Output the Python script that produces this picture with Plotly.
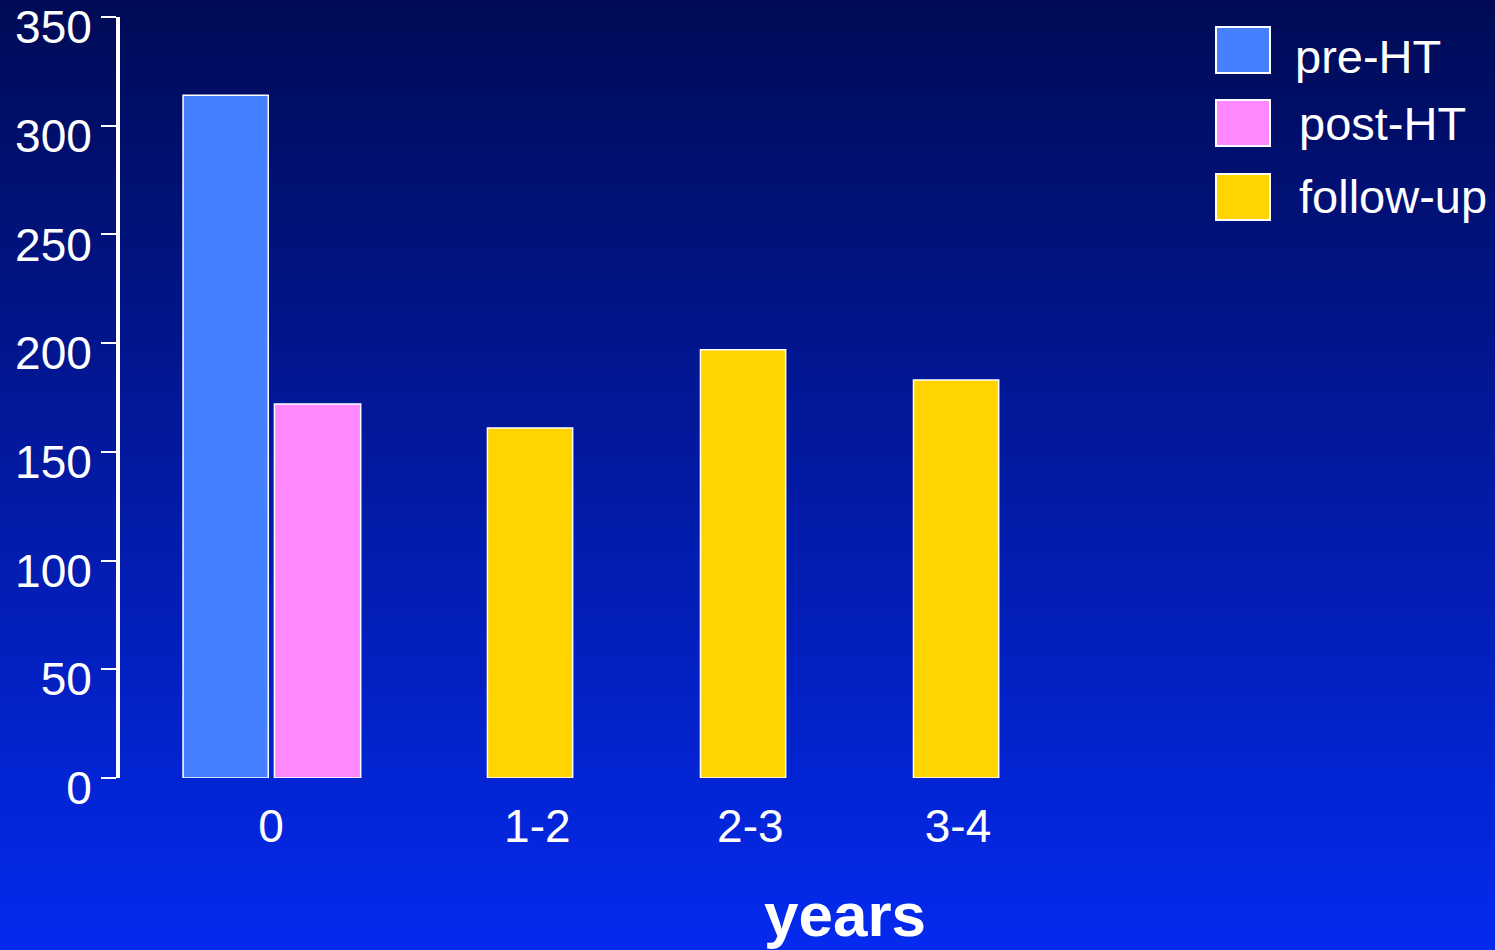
import plotly.graph_objects as go

# ---------------- data ----------------
categories = ["0", "1-2", "2-3", "3-4"]
pre_ht_cats = ["0"]
pre_ht = [314]
post_ht_cats = ["0"]
post_ht = [172]
follow_up_cats = ["1-2", "2-3", "3-4"]
follow_up = [161, 197, 183]
series_names = ["pre-HT", "post-HT", "follow-up"]
y_ticks = [0, 50, 100, 150, 200, 250, 300, 350]

# ---------------- layout constants ----------------
W, H = 1495, 950
ML, MR, MT, MB = 120, 0, 17, 172
PW, PH = W - ML - MR, H - MT - MB
FONT = "Liberation Sans, Arial, Helvetica, sans-serif"
colors = {"pre-HT": "#4480ff", "post-HT": "#ff88ff", "follow-up": "#ffd400"}
cat_index = {c: i for i, c in enumerate(categories)}
label_pos = [0, 1.25, 2.25, 3.225]
x_range = [-0.709, 5.746]


def px_x(p):
    return (p - ML) / PW


def px_y(p):
    return (H - MB - p) / PH


fig = go.Figure()

bar_style = dict(marker_line_color="white", marker_line_width=1.5, showlegend=False)
fig.add_trace(go.Bar(x=[cat_index[c] for c in pre_ht_cats], y=pre_ht, name="pre-HT",
                     offset=-0.413, width=0.40, marker_color=colors["pre-HT"], **bar_style))
fig.add_trace(go.Bar(x=[cat_index[c] for c in post_ht_cats], y=post_ht, name="post-HT",
                     offset=0.016, width=0.405, marker_color=colors["post-HT"], **bar_style))
fig.add_trace(go.Bar(x=[cat_index[c] for c in follow_up_cats], y=follow_up, name="follow-up",
                     offset=0.016, width=0.40, marker_color=colors["follow-up"], **bar_style))

# ---------------- background gradient ----------------
top_rgb = (0, 10, 85)
bot_rgb = (4, 42, 238)
shapes = []
step = 10
for i in range(0, H, step):
    t = (i + step / 2) / H
    c = tuple(round(a + (b - a) * t) for a, b in zip(top_rgb, bot_rgb))
    shapes.append(dict(type="rect", xref="paper", yref="paper", layer="below",
                       x0=px_x(-5), x1=px_x(W + 5), y0=px_y(i + step + 1), y1=px_y(i - 1),
                       fillcolor="rgb(%d,%d,%d)" % c, line_width=0))

# ---------------- custom legend ----------------
annotations = []
box_top = [27, 100, 174]
text_y = [56, 123, 197]
text_x = [1293, 1297, 1297]
for name, bt, ty, tx in zip(series_names, box_top, text_y, text_x):
    shapes.append(dict(type="rect", xref="paper", yref="paper", layer="above",
                       x0=px_x(1216), x1=px_x(1270), y0=px_y(bt + 46), y1=px_y(bt),
                       fillcolor=colors[name], line=dict(color="white", width=2)))
    annotations.append(dict(text=name, xref="paper", yref="paper", x=px_x(tx), y=px_y(ty),
                            xanchor="left", yanchor="middle", showarrow=False,
                            font=dict(family=FONT, size=47, color="white")))

annotations.append(dict(text="<b>years</b>", xref="paper", yref="paper",
                        x=px_x(845), y=px_y(915), xanchor="center", yanchor="middle",
                        showarrow=False, font=dict(family=FONT, size=62, color="white")))

fig.update_layout(
    width=W, height=H,
    margin=dict(l=ML, r=MR, t=MT, b=MB, pad=0, autoexpand=False),
    paper_bgcolor="rgb(0,10,85)",
    plot_bgcolor="rgba(0,0,0,0)",
    barmode="overlay",
    shapes=shapes,
    annotations=annotations,
    showlegend=False,
    font=dict(family=FONT, color="white"),
    xaxis=dict(range=x_range, showgrid=False, zeroline=False, showline=False,
               automargin=False,
               tickmode="array", tickvals=label_pos, ticktext=categories,
               ticks="", ticklabelstandoff=17,
               tickfont=dict(size=46, color="white", family=FONT)),
    yaxis=dict(range=[0, 350.001], showgrid=False, zeroline=False, showline=True,
               automargin=False,
               linecolor="white", linewidth=4, ticks="outside", ticklen=15,
               tickwidth=2, tickcolor="white", tickmode="array", tickvals=y_ticks,
               ticklabeloverflow="allow", ticklabelshift=10,
               tickfont=dict(size=46, color="white", family=FONT)),
)

fig.write_html("out.html")
